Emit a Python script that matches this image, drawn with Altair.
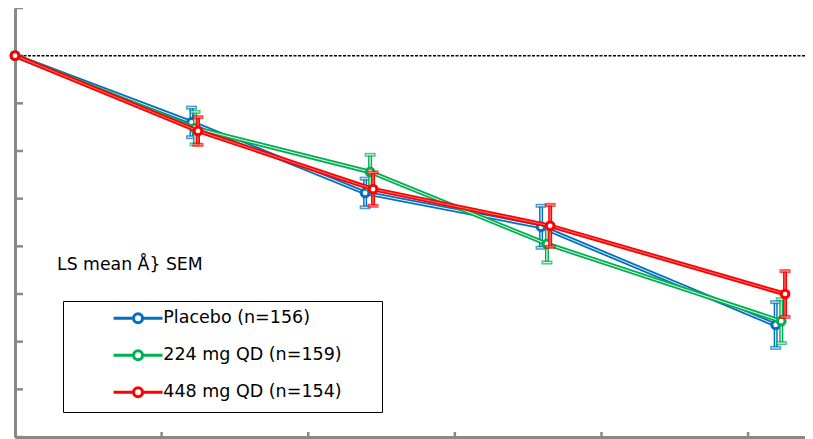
import altair as alt
import pandas as pd

# ---------------- data ----------------
series_names = ["Placebo (n=156)", "224 mg QD (n=159)", "448 mg QD (n=154)"]
colors = ["#0070C0", "#00B050", "#FF0000"]

# x position (weeks) as plotted (series are slightly dodged)
week_placebo = [0, 6.02, 11.94, 17.94, 25.94]
week_224 = [0, 6.14, 12.11, 18.14, 26.13]
week_448 = [0, 6.24, 12.21, 18.25, 26.26]

mean_placebo = [0, -1.40, -2.88, -3.59, -5.65]
mean_224 = [0, -1.52, -2.44, -3.95, -5.57]
mean_448 = [0, -1.58, -2.80, -3.57, -5.00]

sem_placebo = [0, 0.31, 0.30, 0.44, 0.48]
sem_224 = [0, 0.34, 0.36, 0.39, 0.46]
sem_448 = [0, 0.29, 0.35, 0.44, 0.48]

y_ticks = [-8, -7, -6, -5, -4, -3, -2, -1, 0, 1]
x_ticks = [5, 10, 15, 20, 25]
annotation = "LS mean Å} SEM"

# ---------------- build table ----------------
rows = []
for name, wk, mn, se in [
    (series_names[0], week_placebo, mean_placebo, sem_placebo),
    (series_names[1], week_224, mean_224, sem_224),
    (series_names[2], week_448, mean_448, sem_448),
]:
    for w, m, s in zip(wk, mn, se):
        rows.append({"series": name, "week": w, "mean": m, "sem": s,
                     "lo": m - s, "hi": m + s})
df = pd.DataFrame(rows)

W, H = 790, 429
GRAY = "#898989"
FONT = "DejaVu Sans"

xscale = alt.Scale(domain=[0, 26.94], nice=False, zero=False)
yscale = alt.Scale(domain=[-8, 1], nice=False, zero=False)
xaxis = alt.Axis(labels=False, ticks=False, grid=False, title=None,
                 domainColor=GRAY, domainWidth=3, orient="bottom")
yaxis = alt.Axis(labels=False, ticks=False, grid=False, title=None,
                 domainColor=GRAY, domainWidth=3, orient="left")


def X(f):
    return alt.X(f, type="quantitative", scale=xscale, axis=xaxis)


def Y(f):
    return alt.Y(f, type="quantitative", scale=yscale, axis=yaxis)


layers = []

# inward tick marks
layers.append(
    alt.Chart(pd.DataFrame({"v": y_ticks})).mark_rule(color=GRAY, strokeWidth=2.5)
    .encode(y=Y("v"), x=alt.value(0), x2=alt.value(8))
)
layers.append(
    alt.Chart(pd.DataFrame({"w": x_ticks})).mark_rule(color=GRAY, strokeWidth=2.5)
    .encode(x=X("w"), y=alt.value(H - 5), y2=alt.value(H))
)

# zero reference line
layers.append(
    alt.Chart(pd.DataFrame({"v": [0]})).mark_rule(color="black", strokeDash=[3, 1.5], strokeWidth=1.5)
    .encode(y=Y("v"))
)

stripe_op = [0.9, 0.9, 0.45]
for i, name in enumerate(series_names):
    c = colors[i]
    d = df[df["series"] == name]
    de = d[d["sem"] > 0]
    base = alt.Chart(d)
    ebase = alt.Chart(de)
    layers.append(base.mark_line(color=c, strokeWidth=4.5).encode(x=X("week"), y=Y("mean")))
    layers.append(base.mark_line(color="white", strokeWidth=1, opacity=stripe_op[i])
                  .encode(x=X("week"), y=Y("mean")))
    layers.append(ebase.mark_rule(color=c, strokeWidth=4).encode(x=X("week"), y=Y("lo"), y2="hi"))
    layers.append(ebase.mark_rule(color="white", strokeWidth=1.2, opacity=stripe_op[i])
                  .encode(x=X("week"), y=Y("lo"), y2="hi"))
    caps = ebase.transform_fold(["lo", "hi"], as_=["k", "v"])
    layers.append(caps.mark_tick(orient="horizontal", color=c, size=11, thickness=4)
                  .encode(x=X("week"), y=Y("v")))
    layers.append(caps.mark_tick(orient="horizontal", color="white", size=8, thickness=1,
                                 opacity=stripe_op[i])
                  .encode(x=X("week"), y=Y("v")))
    layers.append(base.mark_circle(fill="white", stroke=c, strokeWidth=3, size=60, opacity=1)
                  .encode(x=X("week"), y=Y("mean")))

# legend carrier (invisible marks)
legend_symbol = ("M-4.9,0H-0.9M0.9,0H4.9M-0.9,0A0.9,0.9,0,1,1,0.9,0"
                 "A0.9,0.9,0,1,1,-0.9,0Z")
pad_blank = "\u00a0" + "\u2800" * 2
layers.append(
    alt.Chart(df).mark_point(opacity=0).encode(
        x=X("week"), y=Y("mean"),
        color=alt.Color("series:N",
                        scale=alt.Scale(domain=series_names, range=colors),
                        legend=alt.Legend(
                            orient="none", legendX=48, legendY=293, title=None,
                            symbolType=legend_symbol, symbolSize=100,
                            symbolStrokeWidth=3, symbolFillColor="white",
                            symbolOpacity=1, symbolOffset=57.8,
                            labelOffset=16.5, labelFont=FONT, labelFontSize=17.5,
                            labelColor="black", labelLimit=600,
                            labelExpr="datum.label + '" + pad_blank + "'",
                            padding=8.5, rowPadding=15,
                            strokeColor="black", fillColor="white",
                        )),
    )
)

layers.append(
    alt.Chart(pd.DataFrame({"t": [annotation]})).mark_text(
        align="left", baseline="middle", font=FONT, fontSize=17.3, color="black"
    ).encode(x=alt.value(42), y=alt.value(257), text="t")
)

chart = alt.layer(*layers).properties(
    width=W, height=H,
    autosize=alt.AutoSizeParams(type="none"),
    padding={"left": 7, "top": 0, "right": 0, "bottom": 2},
    background="white",
).configure_view(stroke=None)

chart.save("out.html", embed_options={"renderer": "svg", "actions": False})
